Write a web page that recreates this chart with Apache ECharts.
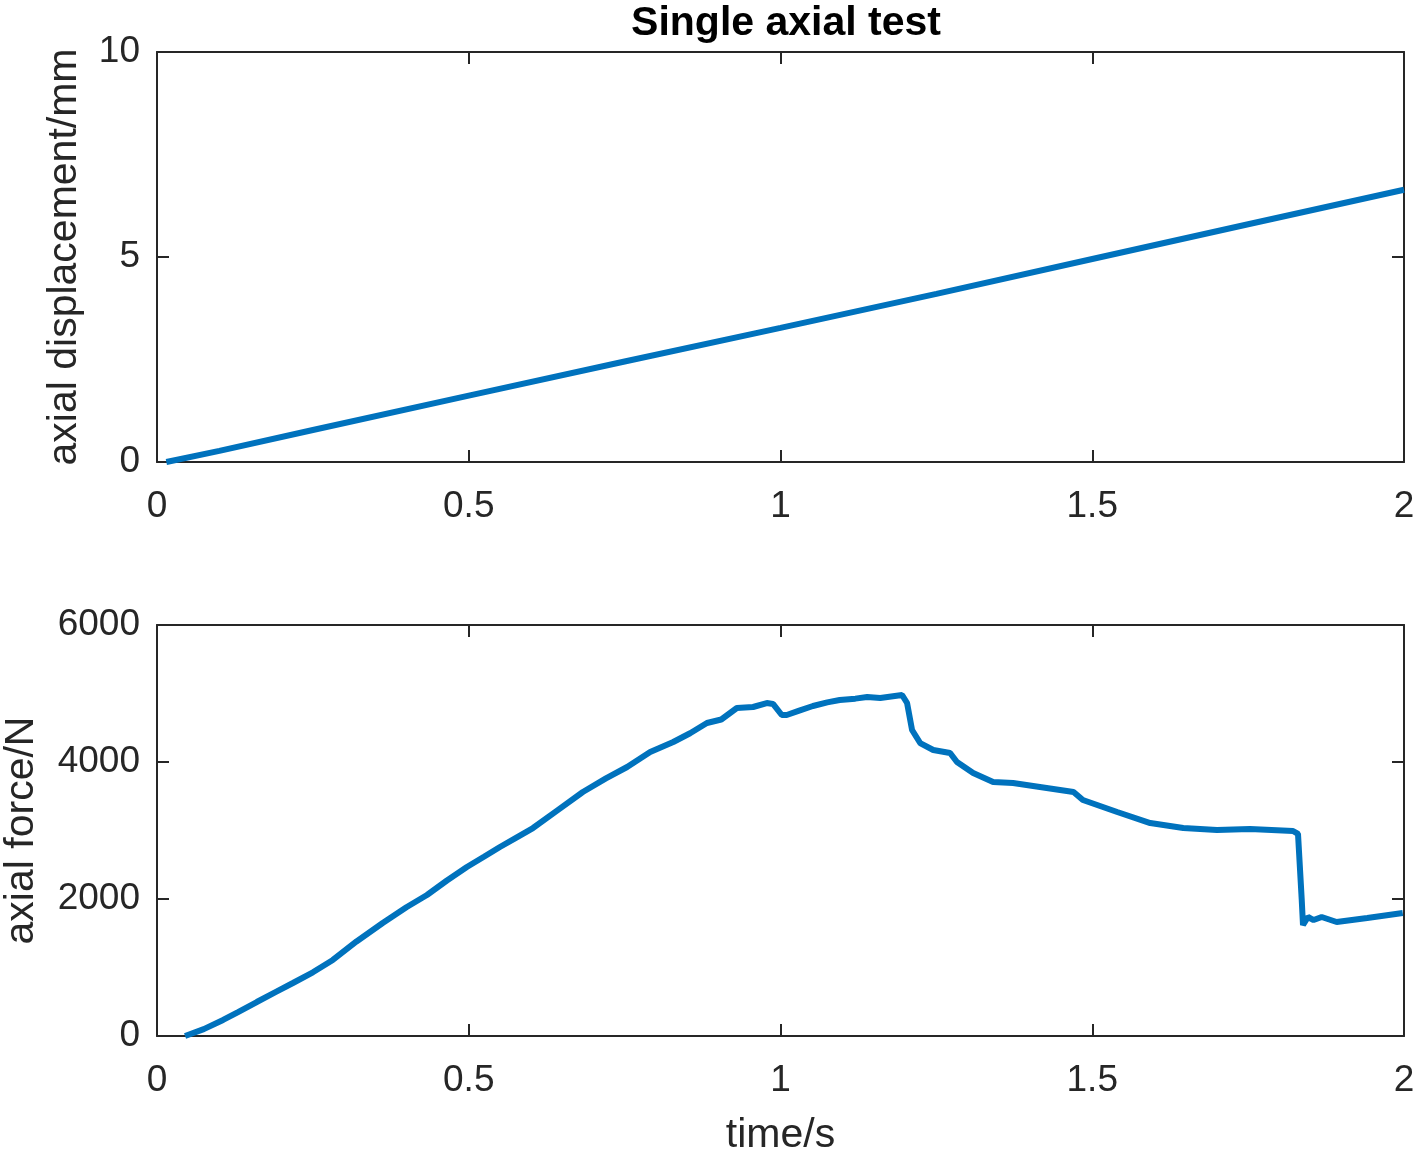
<!DOCTYPE html>
<html>
<head>
<meta charset="utf-8">
<script src="https://cdn.jsdelivr.net/npm/echarts@6/dist/echarts.min.js"></script>
<style>html,body{margin:0;padding:0;background:#fff}#c{width:1418px;height:1154px}</style>
</head>
<body>
<div id="c"></div>
<script>
// Top panel: axial displacement (mm) vs time (s)
const dispTime = [0.015, 0.1, 0.25, 0.5, 0.75, 1.0, 1.25, 1.5, 1.75, 2.0];
const dispVals = [0.0, 0.27, 0.78, 1.62, 2.45, 3.27, 4.1, 4.95, 5.8, 6.64];
// Bottom panel: axial force (N) vs time (s)
const forceTime = [0.045, 0.075, 0.106, 0.13, 0.16, 0.19, 0.218, 0.25, 0.282, 0.32, 0.362, 0.4, 0.433, 0.465, 0.497, 0.525, 0.55, 0.575, 0.603, 0.64, 0.683, 0.72, 0.754, 0.791, 0.828, 0.855, 0.882, 0.905, 0.93, 0.956, 0.978, 0.988, 1.002, 1.01, 1.03, 1.052, 1.075, 1.095, 1.12, 1.139, 1.16, 1.195, 1.203, 1.211, 1.224, 1.245, 1.272, 1.283, 1.309, 1.341, 1.373, 1.416, 1.47, 1.485, 1.54, 1.593, 1.646, 1.7, 1.753, 1.822, 1.83, 1.836, 1.838, 1.846, 1.855, 1.868, 1.892, 1.941, 1.998];
const forceVals = [0, 100, 234, 350, 496, 640, 774, 930, 1110, 1380, 1650, 1880, 2058, 2270, 2467, 2620, 2759, 2890, 3036, 3280, 3562, 3760, 3927, 4146, 4292, 4420, 4569, 4620, 4788, 4803, 4861, 4847, 4686, 4686, 4750, 4818, 4870, 4905, 4925, 4949, 4935, 4978, 4861, 4467, 4277, 4175, 4131, 4000, 3839, 3708, 3693, 3635, 3562, 3445, 3270, 3109, 3036, 3007, 3022, 2993, 2950, 1985, 1620, 1737, 1693, 1737, 1664, 1723, 1796];

const chart = echarts.init(document.getElementById('c'));
const txt = '#262626';
const font = 'Liberation Sans, Arial, sans-serif';
const axLine = {show: true, onZero: false, lineStyle: {color: '#262626', width: 2}};
const tick = {show: true, inside: true, length: 12, lineStyle: {color: '#262626', width: 2}};
const lbl = {color: txt, fontSize: 37, fontFamily: font};
const nameStyle = {color: txt, fontSize: 41, fontFamily: font};

const grids = [
  {left: 157, right: 14, top: 52, height: 410, containLabel: false, outerBoundsMode: 'none'},
  {left: 157, right: 14, top: 625, height: 411, containLabel: false, outerBoundsMode: 'none'}
];
function xAxes(gi, withName){
  return [
    {type: 'value', gridIndex: gi, min: 0, max: 2, interval: 0.5, position: 'bottom',
     axisLine: axLine, axisTick: tick, splitLine: {show: false},
     axisLabel: Object.assign({margin: 26, formatter: v => String(v)}, lbl),
     name: withName ? 'time/s' : '', nameLocation: 'middle', nameGap: 79,
     nameTextStyle: nameStyle},
    {type: 'value', gridIndex: gi, min: 0, max: 2, interval: 0.5, position: 'top',
     axisLine: axLine, axisTick: tick, axisLabel: {show: false}, splitLine: {show: false}}
  ];
}
function yAxes(gi, max, interval, name, gap){
  return [
    {type: 'value', gridIndex: gi, min: 0, max: max, interval: interval, position: 'left',
     axisLine: axLine, axisTick: tick, splitLine: {show: false},
     axisLabel: Object.assign({margin: 17, formatter: v => String(v)}, lbl),
     name: name, nameLocation: 'middle', nameGap: gap, nameRotate: 90,
     nameTextStyle: nameStyle},
    {type: 'value', gridIndex: gi, min: 0, max: max, interval: interval, position: 'right',
     axisLine: axLine, axisTick: tick, axisLabel: {show: false}, splitLine: {show: false}}
  ];
}

chart.setOption({
  animation: false,
  backgroundColor: '#fff',
  title: {text: 'Single axial test', left: 781, textAlign: 'center', top: -2,
    textStyle: {color: '#000', fontSize: 41, fontWeight: 'bold', fontFamily: font}},
  grid: grids,
  xAxis: [].concat(xAxes(0, false), xAxes(1, true)),
  yAxis: [].concat(yAxes(0, 10, 5, 'axial displacement/mm', 72), yAxes(1, 6000, 2000, 'axial force/N', 115)),
  series: [
    {type: 'line', xAxisIndex: 0, yAxisIndex: 0, showSymbol: false, smooth: false,
     lineStyle: {color: '#0072BD', width: 6}, data: dispTime.map((t, i) => [t, dispVals[i]])},
    {type: 'line', xAxisIndex: 2, yAxisIndex: 2, showSymbol: false, smooth: false,
     lineStyle: {color: '#0072BD', width: 6}, data: forceTime.map((t, i) => [t, forceVals[i]])}
  ]
});
</script>
</body>
</html>
